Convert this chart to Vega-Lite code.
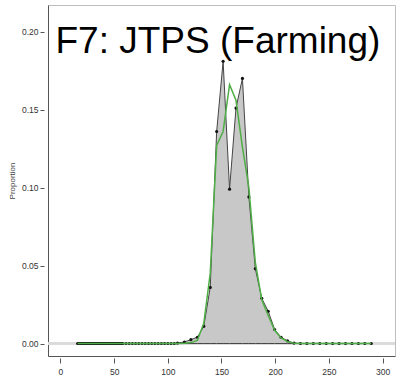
{
  "$schema": "https://vega.github.io/schema/vega-lite/v6.json",
  "width": 347,
  "height": 351,
  "autosize": {"type": "none"},
  "padding": {"left": 48, "top": 5, "right": 5, "bottom": 25},
  "background": "white",
  "config": {
    "view": {"stroke": "#bdbdbd", "strokeWidth": 1},
    "font": "Liberation Sans"
  },
  "data": {
    "values": [
      {"x": 16, "p": 0, "g": 0}, {"x": 17, "p": 0, "g": 0}, {"x": 18, "p": 0, "g": 0}, {"x": 19, "p": 0, "g": 0},
      {"x": 20, "p": 0, "g": 0}, {"x": 21, "p": 0, "g": 0}, {"x": 22, "p": 0, "g": 0}, {"x": 23, "p": 0, "g": 0},
      {"x": 24, "p": 0, "g": 0}, {"x": 25, "p": 0, "g": 0}, {"x": 26, "p": 0, "g": 0}, {"x": 27, "p": 0, "g": 0},
      {"x": 28, "p": 0, "g": 0}, {"x": 29, "p": 0, "g": 0}, {"x": 30, "p": 0, "g": 0}, {"x": 31, "p": 0, "g": 0},
      {"x": 32, "p": 0, "g": 0}, {"x": 33, "p": 0, "g": 0}, {"x": 34, "p": 0, "g": 0}, {"x": 35, "p": 0, "g": 0},
      {"x": 36, "p": 0, "g": 0}, {"x": 37, "p": 0, "g": 0}, {"x": 38, "p": 0, "g": 0}, {"x": 39, "p": 0, "g": 0},
      {"x": 40, "p": 0, "g": 0}, {"x": 41, "p": 0, "g": 0}, {"x": 42, "p": 0, "g": 0}, {"x": 43, "p": 0, "g": 0},
      {"x": 44, "p": 0, "g": 0}, {"x": 45, "p": 0, "g": 0}, {"x": 46, "p": 0, "g": 0}, {"x": 47, "p": 0, "g": 0},
      {"x": 48, "p": 0, "g": 0}, {"x": 49, "p": 0, "g": 0}, {"x": 50, "p": 0, "g": 0}, {"x": 51, "p": 0, "g": 0},
      {"x": 52, "p": 0, "g": 0}, {"x": 53, "p": 0, "g": 0}, {"x": 54, "p": 0, "g": 0}, {"x": 55, "p": 0, "g": 0},
      {"x": 56, "p": 0, "g": 0}, {"x": 57, "p": 0, "g": 0}, {"x": 58, "p": 0, "g": 0},
      {"x": 61, "p": 0, "g": 0}, {"x": 64, "p": 0, "g": 0}, {"x": 67, "p": 0, "g": 0}, {"x": 70, "p": 0, "g": 0},
      {"x": 73, "p": 0, "g": 0}, {"x": 76, "p": 0, "g": 0}, {"x": 79, "p": 0, "g": 0}, {"x": 82, "p": 0, "g": 0},
      {"x": 85, "p": 0, "g": 0}, {"x": 88, "p": 0, "g": 0}, {"x": 91, "p": 0, "g": 0}, {"x": 94, "p": 0, "g": 0},
      {"x": 97, "p": 0, "g": 0}, {"x": 100, "p": 0, "g": 0}, {"x": 103, "p": 0, "g": 0}, {"x": 106, "p": 0, "g": 0},
      {"x": 109, "p": 0.0003, "g": 0},
      {"x": 115.5, "p": 0.001, "g": 0.0002},
      {"x": 121.5, "p": 0.0025, "g": 0.0006},
      {"x": 127.5, "p": 0.004, "g": 0.002},
      {"x": 133.5, "p": 0.011, "g": 0.013},
      {"x": 139.5, "p": 0.036, "g": 0.045},
      {"x": 145.5, "p": 0.136, "g": 0.127},
      {"x": 151.5, "p": 0.181, "g": 0.136},
      {"x": 157.5, "p": 0.099, "g": 0.166},
      {"x": 163.5, "p": 0.151, "g": 0.156},
      {"x": 169.5, "p": 0.170, "g": 0.126},
      {"x": 175.5, "p": 0.094, "g": 0.100},
      {"x": 181.5, "p": 0.048, "g": 0.052},
      {"x": 187.5, "p": 0.029, "g": 0.028},
      {"x": 193.5, "p": 0.0207, "g": 0.018},
      {"x": 199.5, "p": 0.009, "g": 0.0085},
      {"x": 205.5, "p": 0.004, "g": 0.0036},
      {"x": 211.5, "p": 0.0017, "g": 0.0012},
      {"x": 217.5, "p": 0.0003, "g": 0.0002},
      {"x": 223.5, "p": 0, "g": 0}, {"x": 229.5, "p": 0, "g": 0}, {"x": 235.5, "p": 0, "g": 0},
      {"x": 241.5, "p": 0, "g": 0}, {"x": 247.5, "p": 0, "g": 0}, {"x": 253.5, "p": 0, "g": 0},
      {"x": 259.5, "p": 0, "g": 0}, {"x": 265.5, "p": 0, "g": 0}, {"x": 271.5, "p": 0, "g": 0},
      {"x": 277.5, "p": 0, "g": 0}, {"x": 283.5, "p": 0, "g": 0}, {"x": 289.5, "p": 0, "g": 0}
    ]
  },
  "encoding": {
    "x": {
      "field": "x",
      "type": "quantitative",
      "scale": {"domain": [-11.6, 311.6], "nice": false, "zero": false},
      "axis": {
        "values": [0, 50, 100, 150, 200, 250, 300],
        "format": "d",
        "title": null,
        "grid": false,
        "domainColor": "#555555",
        "tickColor": "#555555",
        "tickSize": 7,
        "tickDash": [0, 2, 5, 20],
        "labelFontSize": 8.5,
        "labelColor": "#333333",
        "labelPadding": 4,
        "labelFont": "Liberation Sans"
      }
    }
  },
  "layer": [
    {
      "mark": {"type": "rule", "color": "#dadada", "strokeWidth": 1.5},
      "encoding": {"x": null, "y": {"datum": 0, "type": "quantitative"}}
    },
    {
      "mark": {"type": "area", "fill": "#c8c8c8", "stroke": "#454545", "strokeWidth": 1, "fillOpacity": 1},
      "encoding": {
        "y": {
          "field": "p",
          "type": "quantitative",
          "scale": {"domain": [-0.008, 0.2171], "nice": false, "zero": false},
          "axis": {
            "values": [0, 0.05, 0.1, 0.15, 0.2],
            "format": ".2f",
            "title": "Proportion",
            "grid": false,
            "domainColor": "#555555",
            "tickColor": "#555555",
            "tickSize": 8,
            "tickDash": [0, 4, 4, 20],
            "labelFontSize": 8.5,
            "labelColor": "#333333",
            "labelPadding": 2,
            "labelFont": "Liberation Sans",
            "titleFont": "Liberation Sans",
            "titleFontSize": 8,
            "titleFontWeight": "normal",
            "titleColor": "#444444",
            "titlePadding": 5
          }
        },
        "y2": {"datum": 0}
      }
    },
    {
      "mark": {"type": "point", "filled": true, "color": "#111111", "size": 10, "opacity": 1},
      "encoding": {"y": {"field": "p", "type": "quantitative"}}
    },
    {
      "mark": {"type": "line", "color": "#4fae45", "strokeWidth": 1.5},
      "encoding": {"y": {"field": "g", "type": "quantitative"}}
    },
    {
      "data": {"values": [{"label": "F7: JTPS (Farming)", "tx": -4.6, "ty": 0.186}]},
      "mark": {"type": "text", "font": "Liberation Sans", "fontSize": 37, "align": "left", "baseline": "alphabetic", "color": "#000000"},
      "encoding": {
        "x": {"field": "tx", "type": "quantitative"},
        "y": {"field": "ty", "type": "quantitative"},
        "text": {"field": "label"}
      }
    }
  ]
}
